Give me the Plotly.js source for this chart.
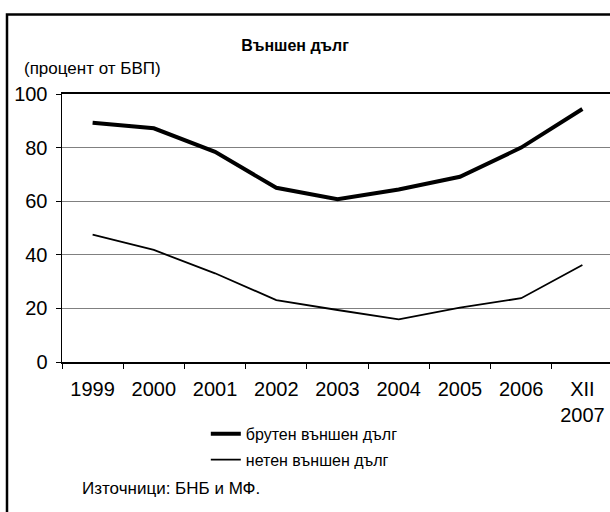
<!DOCTYPE html>
<html>
<head>
<meta charset="utf-8">
<script src="https://cdn.plot.ly/plotly-3.0.1.min.js"></script>
<style>
  html, body { margin: 0; padding: 0; background: #fff; overflow: hidden; }
  #plot { width: 625px; height: 512px; }
</style>
</head>
<body>
<div id="plot"></div>
<script>
// categories and series
const years = ["1999", "2000", "2001", "2002", "2003", "2004", "2005", "2006", "XII<br>2007"];
const gross = [89.3, 87.2, 78.4, 65.0, 60.7, 64.4, 69.1, 80.0, 94.4];
const net = [47.5, 41.8, 33.1, 23.1, 19.4, 15.9, 20.3, 23.8, 36.2];
const yTicks = [0, 20, 40, 60, 80, 100];

const FONT = "Arial, 'Liberation Sans', sans-serif";

const grossTrace = {
  x: years,
  y: gross,
  name: "брутен външен дълг",
  type: "scatter",
  mode: "lines",
  line: { color: "#000", width: 4 },
  legendgroup: "a",
};
const netTrace = {
  x: years,
  y: net,
  name: "нетен външен дълг",
  type: "scatter",
  mode: "lines",
  line: { color: "#000", width: 1.8 },
  legendgroup: "b",
};

// plot area runs from 62px to 613px, 94px to 362px
const layout = {
  width: 625,
  height: 512,
  margin: { l: 62, r: 12, t: 94, b: 150 },
  paper_bgcolor: "#fff",
  plot_bgcolor: "#fff",
  font: { family: FONT, color: "#000", size: 20 },
  title: {
    text: "<b>Външен дълг</b>",
    font: { family: FONT, size: 16, color: "#000" },
    xref: "container",
    x: 0.472,
    xanchor: "center",
    yref: "container",
    y: 0.912,
    yanchor: "middle",
  },
  xaxis: {
    type: "category",
    range: [-0.5, years.length - 0.5],
    tickson: "boundaries",
    ticks: "outside",
    ticklen: 5,
    tickcolor: "#000",
    tickwidth: 1,
    showline: true,
    linecolor: "#000",
    linewidth: 2,
    mirror: true,
    showgrid: false,
    tickfont: { family: FONT, size: 20, color: "#000" },
    ticklabelstandoff: 8,
  },
  yaxis: {
    range: [0, 100],
    tickvals: yTicks,
    ticks: "outside",
    ticklen: 5,
    tickcolor: "#000",
    showline: true,
    linecolor: "#000",
    linewidth: 1.5,
    showgrid: true,
    gridcolor: "#808080",
    gridwidth: 1,
    zeroline: false,
    tickfont: { family: FONT, size: 20, color: "#000" },
    ticklabelstandoff: 4,
  },
  showlegend: true,
  legend: {
    orientation: "v",
    x: 0.261,
    xanchor: "left",
    y: -0.205,
    yanchor: "top",
    font: { family: FONT, size: 16, color: "#000" },
    traceorder: "grouped",
    tracegroupgap: 2,
    bgcolor: "rgba(0,0,0,0)",
  },
  annotations: [
    {
      xref: "paper",
      yref: "paper",
      x: (22 - 62) / 551,
      y: (362 - 68) / 268,
      xanchor: "left",
      yanchor: "middle",
      text: "(процент от БВП)",
      showarrow: false,
      font: { family: FONT, size: 17, color: "#000" },
    },
    {
      xref: "paper",
      yref: "paper",
      x: (80 - 62) / 551,
      y: (362 - 488) / 268,
      xanchor: "left",
      yanchor: "middle",
      text: "Източници: БНБ и МФ.",
      showarrow: false,
      font: { family: FONT, size: 17, color: "#000" },
    },
  ],
  shapes: [
    // outer frame, runs past the right and bottom edges of the picture
    {
      type: "rect",
      xref: "paper",
      yref: "paper",
      x0: (7 - 62) / 551,
      x1: 1.2,
      y0: -0.7,
      y1: (362 - 14.5) / 268,
      line: { color: "#000", width: 2.5 },
      layer: "below",
    },
  ],
};

Plotly.newPlot("plot", [grossTrace, netTrace], layout, {
  displayModeBar: false,
  staticPlot: true,
});
</script>
</body>
</html>
